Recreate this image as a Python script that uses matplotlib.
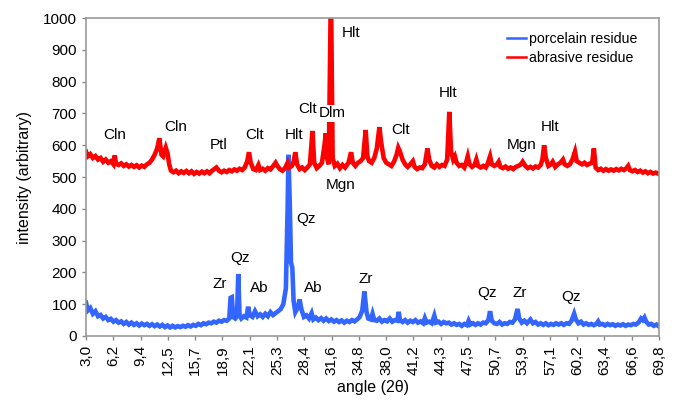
import matplotlib.pyplot as plt

plt.rcParams['font.family'] = ['Liberation Sans', 'DejaVu Sans']

# porcelain residue (blue)
porc_angle = [3.0, 3.2, 3.5, 3.8, 4.1, 4.4, 4.7, 5.0, 5.3, 5.6, 5.9, 6.2, 6.5, 6.8, 7.1, 7.4, 7.7, 8.0, 8.3, 8.6,
              8.9, 9.2, 9.5, 9.8, 10.1, 10.4, 10.7, 11.0, 11.3, 11.6, 11.9, 12.2, 12.5, 12.8, 13.1, 13.4, 13.7, 14.0,
              14.3, 14.6, 14.9, 15.2, 15.5, 15.8, 16.1, 16.4, 16.7, 17.0, 17.3, 17.6, 17.9, 18.2, 18.5, 18.8, 19.1,
              19.4, 19.7, 19.85, 20.0, 20.15, 20.4, 20.6, 20.75, 20.9, 21.1, 21.4, 21.7, 21.9, 22.1, 22.4, 22.7, 23.0,
              23.3, 23.6, 23.9, 24.2, 24.5, 24.8, 25.1, 25.4, 25.7, 26.0, 26.3, 26.5, 26.6, 26.75, 26.9, 27.05, 27.2,
              27.4, 27.7, 27.9, 28.1, 28.4, 28.7, 29.0, 29.3, 29.5, 29.8, 30.1, 30.4, 30.7, 31.0, 31.3, 31.6, 31.9,
              32.2, 32.5, 32.8, 33.1, 33.4, 33.7, 34.0, 34.3, 34.6, 34.9, 35.2, 35.45, 35.7, 35.9, 36.2, 36.4, 36.6,
              36.9, 37.2, 37.5, 37.8, 38.1, 38.4, 38.7, 39.0, 39.3, 39.45, 39.6, 39.9, 40.2, 40.5, 40.8, 41.1, 41.4,
              41.7, 42.0, 42.3, 42.5, 42.7, 43.0, 43.3, 43.6, 43.8, 44.1, 44.4, 44.7, 45.0, 45.3, 45.6, 45.9, 46.2,
              46.5, 46.8, 47.1, 47.4, 47.6, 47.8, 48.1, 48.4, 48.7, 49.0, 49.3, 49.6, 49.9, 50.1, 50.3, 50.6, 50.9,
              51.2, 51.5, 51.8, 52.1, 52.4, 52.7, 53.0, 53.3, 53.5, 53.8, 54.1, 54.4, 54.8, 55.1, 55.4, 55.7, 56.0,
              56.3, 56.6, 56.9, 57.2, 57.5, 57.8, 58.1, 58.4, 58.7, 59.0, 59.3, 59.6, 59.9, 60.1, 60.4, 60.7, 61.0,
              61.3, 61.6, 61.9, 62.2, 62.5, 62.7, 62.9, 63.2, 63.5, 63.8, 64.1, 64.4, 64.7, 65.0, 65.3, 65.6, 65.9,
              66.2, 66.5, 66.8, 67.1, 67.4, 67.7, 67.9, 68.1, 68.3, 68.6, 68.9, 69.2, 69.5, 69.8]
porc_int = [105, 80, 88, 70, 78, 62, 66, 55, 60, 50, 54, 45, 50, 42, 46, 38, 44, 36, 42, 35,
            40, 33, 39, 34, 38, 32, 37, 31, 36, 30, 35, 28, 33, 27, 32, 27, 31, 28,
            32, 29, 34, 30, 35, 32, 38, 34, 40, 37, 42, 40, 45, 42, 48, 45, 50,
            48, 55, 120, 122, 60, 55, 62, 195, 65, 55, 62, 58, 92, 65, 60, 78, 62,
            68, 60, 70, 62, 75, 66, 72, 78, 85, 100, 150, 400, 570, 420, 230, 215, 110,
            75, 90, 115, 85, 60, 65, 55, 72, 52, 58, 50, 56, 48, 55, 47, 52, 45,
            50, 44, 49, 42, 48, 44, 50, 46, 52, 60, 80, 140, 75, 55, 52, 70, 50,
            48, 55, 45, 50, 46, 55, 45, 50, 48, 76, 50, 44, 50, 42, 48, 44, 50,
            42, 46, 40, 56, 42, 45, 40, 64, 42, 45, 38, 44, 40, 42, 36, 40, 35,
            38, 32, 38, 34, 48, 36, 40, 35, 40, 36, 42, 40, 50, 78, 48, 40, 38,
            44, 36, 40, 38, 44, 42, 52, 85, 55, 42, 48, 40, 52, 40, 44, 36, 40,
            35, 40, 34, 38, 35, 40, 36, 40, 35, 40, 38, 48, 70, 52, 40, 45, 36,
            40, 35, 38, 34, 38, 46, 36, 38, 33, 38, 34, 37, 32, 36, 33, 37, 32,
            36, 34, 38, 36, 42, 55, 50, 58, 45, 36, 38, 32, 36, 30]

# abrasive residue (red)
abr_angle = [3.0, 3.2, 3.5, 3.8, 4.1, 4.4, 4.7, 5.0, 5.3, 5.6, 5.9, 6.2, 6.35, 6.5, 6.8, 7.1, 7.4, 7.7, 8.0, 8.3,
             8.6, 8.9, 9.2, 9.5, 9.8, 10.1, 10.4, 10.7, 11.0, 11.3, 11.55, 11.8, 12.0, 12.3, 12.5, 12.7, 12.9, 13.2,
             13.5, 13.8, 14.1, 14.4, 14.7, 15.0, 15.3, 15.6, 15.9, 16.2, 16.5, 16.8, 17.1, 17.4, 17.7, 18.0, 18.2,
             18.5, 18.8, 19.1, 19.4, 19.7, 20.0, 20.3, 20.6, 20.9, 21.2, 21.5, 21.8, 22.0, 22.2, 22.5, 22.8, 23.1,
             23.3, 23.6, 23.9, 24.2, 24.5, 24.8, 25.1, 25.3, 25.6, 25.9, 26.2, 26.5, 26.7, 27.0, 27.2, 27.4, 27.6,
             27.9, 28.2, 28.5, 28.8, 29.1, 29.4, 29.6, 29.9, 30.2, 30.5, 30.8, 30.95, 31.1, 31.3, 31.55, 31.75,
             32.0, 32.3, 32.6, 32.9, 33.2, 33.6, 33.9, 34.1, 34.4, 34.7, 35.0, 35.3, 35.6, 35.8, 36.0, 36.3, 36.6,
             36.9, 37.2, 37.4, 37.7, 38.0, 38.3, 38.6, 38.9, 39.2, 39.4, 39.6, 39.9, 40.2, 40.5, 40.8, 41.1, 41.3,
             41.6, 41.9, 42.2, 42.5, 42.8, 43.0, 43.3, 43.6, 43.9, 44.2, 44.5, 44.8, 45.1, 45.35, 45.55, 45.8, 46.0,
             46.2, 46.5, 46.8, 47.1, 47.3, 47.5, 47.7, 48.0, 48.3, 48.5, 48.7, 49.0, 49.3, 49.6, 49.8, 50.1, 50.3,
             50.6, 50.9, 51.1, 51.3, 51.6, 51.9, 52.2, 52.5, 52.8, 53.1, 53.4, 53.7, 53.9, 54.2, 54.5, 54.8, 55.1,
             55.4, 55.7, 56.0, 56.2, 56.4, 56.6, 56.9, 57.2, 57.4, 57.7, 58.0, 58.3, 58.6, 58.8, 59.1, 59.4, 59.7,
             60.0, 60.2, 60.5, 60.8, 61.1, 61.4, 61.7, 62.0, 62.2, 62.4, 62.7, 63.0, 63.3, 63.6, 63.9, 64.2, 64.5,
             64.8, 65.1, 65.4, 65.7, 66.0, 66.2, 66.4, 66.7, 67.0, 67.3, 67.6, 67.9, 68.2, 68.5, 68.8, 69.1, 69.4,
             69.8]
abr_int = [580, 565, 572, 560, 566, 555, 560, 548, 555, 545, 550, 540, 568, 542, 538, 543, 535, 540, 533, 538,
           532, 537, 530, 536, 532, 540, 545, 555, 570, 590, 622, 570, 565, 592, 575, 540, 520, 515,
           520, 512, 518, 513, 519, 512, 518, 510, 516, 511, 517, 512, 518, 512, 520, 526, 530,
           520, 515, 520, 516, 522, 518, 524, 520, 526, 522, 530, 550, 578, 545, 525, 522, 538,
           522, 526, 520, 528, 524, 534, 545, 535, 525, 520, 528, 545, 530, 535, 548, 578, 540,
           525, 530, 522, 530, 540, 645, 545, 528, 535, 545, 600, 638, 560, 540, 1100, 560,
           535, 542, 528, 538, 530, 545, 578, 545, 535, 545, 550, 560, 648, 565, 550, 545, 560,
           590, 657, 610, 560, 545, 540, 535, 548, 570, 592, 580, 555, 540, 532, 540, 550, 532,
           525, 530, 528, 540, 590, 555, 535, 530, 540, 532, 538, 535, 555, 705, 580, 555, 565,
           545, 535, 538, 530, 545, 565, 540, 532, 538, 555, 535, 530, 535, 530, 540, 565, 540,
           535, 540, 548, 532, 528, 533, 526, 530, 525, 532, 535, 540, 548, 535, 528, 532, 527,
           533, 530, 538, 555, 600, 560, 535, 540, 548, 532, 540, 545, 555, 540, 535, 540, 555,
           580, 550, 545, 540, 545, 538, 542, 545, 590, 530, 522, 526, 520, 525, 520, 524, 520,
           525, 521, 526, 522, 528, 535, 522, 518, 522, 516, 520, 514, 518, 512, 516, 511, 514,
           510]

xtick_labels = ["3,0", "6,2", "9,4", "12,5", "15,7", "18,9", "22,1", "25,3", "28,4", "31,6", "34,8",
                "38,0", "41,2", "44,3", "47,5", "50,7", "53,9", "57,1", "60,2", "63,4", "66,6", "69,8"]

# phase labels: (text, angle, intensity)
phase_labels = [("Cln", 6.4, 632), ("Cln", 13.5, 657), ("Ptl", 18.5, 600), ("Clt", 22.6, 632),
                ("Hlt", 27.2, 632), ("Clt", 28.8, 714), ("Dlm", 31.7, 701), ("Hlt", 33.9, 953),
                ("Mgn", 32.7, 475), ("Clt", 39.7, 648), ("Hlt", 45.2, 764), ("Mgn", 53.8, 600),
                ("Hlt", 57.1, 657),
                ("Zr", 18.6, 164), ("Qz", 20.9, 245), ("Ab", 23.2, 151), ("Qz", 28.6, 368),
                ("Ab", 29.5, 151), ("Zr", 35.6, 179), ("Qz", 49.7, 135), ("Zr", 53.6, 135),
                ("Qz", 59.5, 123)]

fig = plt.figure(figsize=(6.75, 4.11), dpi=100)
fig.set_facecolor("white")
ax = fig.add_axes([0.1274, 0.1825, 0.849, 0.7735])

ax.plot(porc_angle, porc_int, color='#3366ff', lw=3.3, label='porcelain residue', solid_joinstyle='miter')
ax.plot(abr_angle, abr_int, color='#ff0000', lw=3.3, label='abrasive residue', solid_joinstyle='miter')

for txt, a, v in phase_labels:
    box = dict(facecolor='white', edgecolor='none', pad=1) if txt == "Dlm" else None
    ax.text(a, v, txt, ha='center', va='center', fontsize=11, bbox=box)

ax.set_xlim(3.0, 69.8)
ax.set_ylim(0, 1000)
ax.set_yticks(range(0, 1001, 100))
ax.set_xticks([3.0 + i * 66.8 / 21 for i in range(22)])
ax.set_xticklabels(xtick_labels, rotation=90)
ax.tick_params(labelsize=11, color='#888888', length=3, width=1)
for s in ax.spines.values():
    s.set_color('#999999')
    s.set_linewidth(1.2)

ax.set_xlabel("angle (2θ)", fontsize=11.5)
ax.set_ylabel("intensity (arbitrary)", fontsize=11.5, labelpad=8)

leg = ax.legend(loc='upper right', frameon=False, fontsize=10.2, handlelength=1.3, handletextpad=0.25,
                labelspacing=0.35, bbox_to_anchor=(0.985, 0.995))
for h in leg.legend_handles:
    h.set_linewidth(1.8)

fig.savefig('out.png', dpi=100)
